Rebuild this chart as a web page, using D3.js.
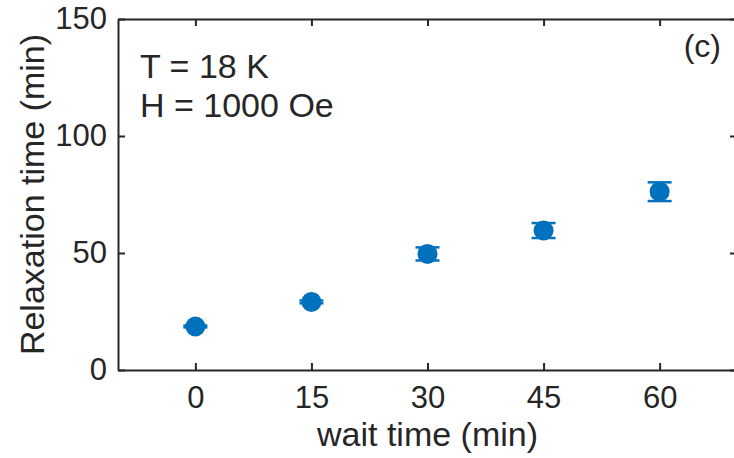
<!DOCTYPE html>
<html><head><meta charset="utf-8">
<script src="https://cdn.jsdelivr.net/npm/d3@7"></script>
<style>body{margin:0;background:#fff}svg{display:block}text{font-family:"Liberation Sans",Arial,Helvetica,sans-serif;fill:#262626}</style>
</head><body><svg id="c" width="734" height="458"></svg>
<script>
const waitTimes = [0, 15, 30, 45, 60];
const relaxTimes = [18.6, 29.1, 49.6, 59.6, 76.2];
const relaxErr = [0.4, 0.6, 2.8, 3.2, 4.0];
const xTicks = [0, 15, 30, 45, 60];
const yTicks = [0, 50, 100, 150];
const annotations = ["T = 18 K", "H = 1000 Oe"];

const W = 734, H = 458;
const m = {l: 118, t: 19, r: -3, b: 88};
const svg = d3.select("#c");
const x = d3.scaleLinear().domain([-10, 70]).range([m.l, W - m.r]);
const y = d3.scaleLinear().domain([0, 150]).range([H - m.b, m.t]);
const axColor = "#262626";
const blue = "#0072BD";

function styleAxis(g){
  g.select(".domain").attr("stroke", axColor).attr("stroke-width", 2);
  g.selectAll(".tick line").attr("stroke", axColor).attr("stroke-width", 2);
  g.selectAll(".tick text").attr("fill", axColor).style("font-size", "31px");
}
svg.append("g").attr("transform", `translate(0,${y(0)})`)
  .call(d3.axisBottom(x).tickValues(xTicks).tickSizeInner(-7).tickSizeOuter(0).tickPadding(16))
  .call(styleAxis);
svg.append("g").attr("transform", `translate(0,${y(150)})`)
  .call(d3.axisTop(x).tickValues(xTicks).tickSizeInner(-7).tickSizeOuter(0).tickFormat(""))
  .call(styleAxis);
svg.append("g").attr("transform", `translate(${x(-10)},0)`)
  .call(d3.axisLeft(y).tickValues(yTicks).tickSizeInner(-7).tickSizeOuter(0).tickPadding(11))
  .call(styleAxis);
svg.append("g").attr("transform", `translate(${x(70)},0)`)
  .call(d3.axisRight(y).tickValues(yTicks).tickSizeInner(-7).tickSizeOuter(0).tickFormat(""))
  .call(styleAxis);

const pts = waitTimes.map((t,i)=>({t, v: relaxTimes[i], e: relaxErr[i]}));
const gp = svg.append("g");
const cap = 12;
gp.selectAll("line.v").data(pts).join("line")
  .attr("x1", d=>x(d.t)).attr("x2", d=>x(d.t))
  .attr("y1", d=>y(d.v-d.e)).attr("y2", d=>y(d.v+d.e))
  .attr("stroke", blue).attr("stroke-width", 2.5);
gp.selectAll("line.top").data(pts).join("line")
  .attr("x1", d=>x(d.t)-cap).attr("x2", d=>x(d.t)+cap)
  .attr("y1", d=>y(d.v+d.e)).attr("y2", d=>y(d.v+d.e))
  .attr("stroke", blue).attr("stroke-width", 2.5);
gp.selectAll("line.bot").data(pts).join("line")
  .attr("x1", d=>x(d.t)-cap).attr("x2", d=>x(d.t)+cap)
  .attr("y1", d=>y(d.v-d.e)).attr("y2", d=>y(d.v-d.e))
  .attr("stroke", blue).attr("stroke-width", 2.5);
gp.selectAll("circle").data(pts).join("circle")
  .attr("cx", d=>x(d.t)).attr("cy", d=>y(d.v)).attr("r", 10).attr("fill", blue);

svg.append("text").attr("x", x(30)).attr("y", 446).attr("text-anchor","middle")
  .style("font-size","34px").text("wait time (min)");
svg.append("text").attr("transform", `translate(44,${(y(0)+y(150))/2}) rotate(-90)`)
  .attr("text-anchor","middle").style("font-size","34px").text("Relaxation time (min)");
svg.selectAll("text.ann").data(annotations).join("text").attr("class","ann")
  .attr("x", 140).attr("y", (d,i)=>78 + i*39).style("font-size","34px").text(d=>d);
svg.append("text").attr("x", 721).attr("y", 57).attr("text-anchor","end")
  .style("font-size","32px").text("(c)");
</script></body></html>
